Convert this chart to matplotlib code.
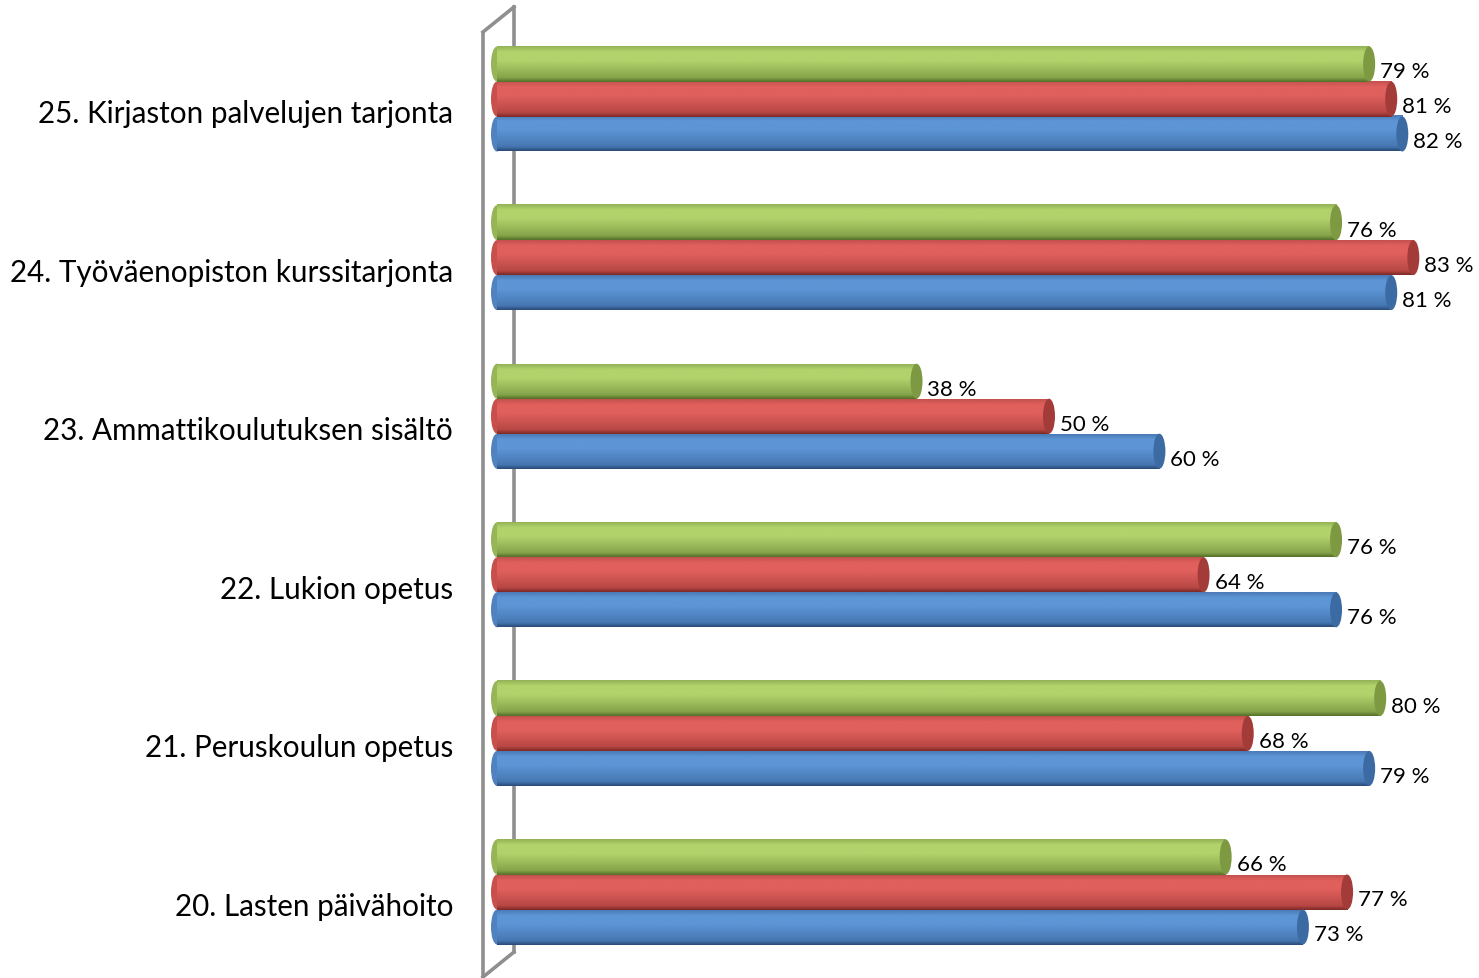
import numpy as np
import matplotlib
matplotlib.use("Agg")
import matplotlib.pyplot as plt
from matplotlib.colors import LinearSegmentedColormap
from matplotlib.patches import Ellipse

categories = ["20. Lasten päivähoito", "21. Peruskoulun opetus", "22. Lukion opetus",
              "23. Ammattikoulutuksen sisältö", "24. Työväenopiston kurssitarjonta",
              "25. Kirjaston palvelujen tarjonta"]
series_green = [66, 80, 76, 38, 76, 79]
series_red = [77, 68, 64, 50, 83, 81]
series_blue = [73, 79, 76, 60, 81, 82]

W, H = 1479, 979
fig = plt.figure(figsize=(W / 100, H / 100), dpi=100)
ax = fig.add_axes([0, 0, 1, 1])

# pixel mapping
x0_pix, px_per = 497.0, 11.04
gap = 158.6
c0 = 893.0
xlim = (-x0_pix / px_per, (W - x0_pix) / px_per)
ylim = ((c0 - H) / gap, c0 / gap)

# wall (background) drawn in pixel coords on overlay
ov = fig.add_axes([0, 0, 1, 1], zorder=0)
ov.set_xlim(0, W); ov.set_ylim(H, 0); ov.axis("off")
wc = "#8f8f8f"
ov.plot([483, 483], [33, 985], color=wc, lw=2.6, solid_capstyle="butt")
ov.plot([483, 514], [33, 8], color=wc, lw=2.6)
ov.plot([514, 514], [8, 953], color=wc, lw=2.6)
ov.plot([514, 483], [953, 978], color=wc, lw=2.6)

ax.set_zorder(1)
ax.patch.set_alpha(0)
ax.set_xlim(*xlim); ax.set_ylim(*ylim); ax.axis("off")

bh = 35.0 / gap
cap_w = 12.0 / px_per

def cmap_for(top, light, mid, dark):
    return LinearSegmentedColormap.from_list("c", [(0, dark), (0.12, mid), (0.6, light), (0.85, light), (1.0, top)])

styles = {
    "green": (cmap_for("#93b356", "#b2d26c", "#86a44a", "#55702a"), "#7d9a42"),
    "red": (cmap_for("#c4514e", "#e0605d", "#b84744", "#7e2a28"), "#a33c39"),
    "blue": (cmap_for("#4b7bb6", "#5d95d6", "#4677b2", "#2a4b78"), "#3c6ba4"),
}

grad = np.linspace(0, 1, 64).reshape(-1, 1)

def draw_bar(v, yc, key):
    cmap, capc = styles[key]
    y0, y1 = yc - bh / 2, yc + bh / 2
    ax.imshow(grad, cmap=cmap, extent=[0, v, y0, y1], origin="lower",
              aspect="auto", interpolation="bilinear", zorder=2)
    ax.add_patch(Ellipse((0, yc), cap_w, bh, facecolor=cmap(0.3), edgecolor="none", zorder=1.9))
    ax.add_patch(Ellipse((v, yc), cap_w, bh, facecolor=capc, edgecolor="none", zorder=2.1))
    ax.text(v + cap_w / 2 + 0.45, yc - 7.5 / gap, f"{v} %", fontsize=16, family="Lato",
            ha="left", va="center", color="black", zorder=3)

for k, cat in enumerate(categories):
    yc = float(k)
    draw_bar(series_blue[k], yc - bh, "blue")
    draw_bar(series_red[k], yc, "red")
    draw_bar(series_green[k], yc + bh, "green")
    ax.text((453 - x0_pix) / px_per, yc - 14.0 / gap, cat, fontsize=21.3, family="Lato",
            ha="right", va="center", color="black")

ax.set_xlim(*xlim); ax.set_ylim(*ylim)
fig.savefig("out.png", dpi=100)
